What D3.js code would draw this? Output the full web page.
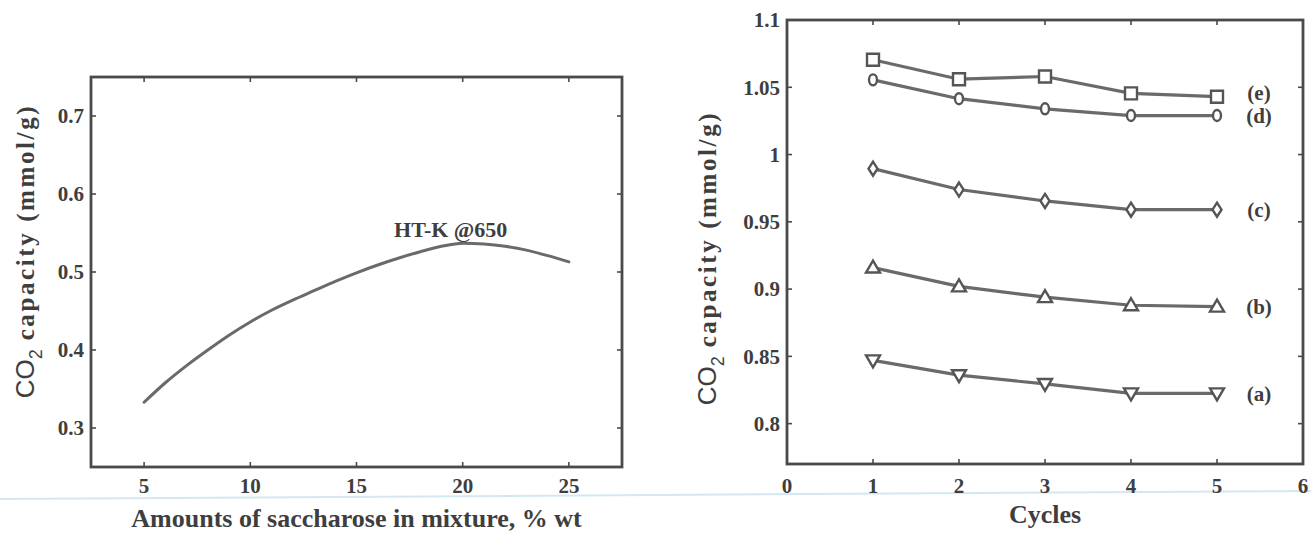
<!DOCTYPE html>
<html>
<head>
<meta charset="utf-8">
<script src="https://cdn.jsdelivr.net/npm/d3@7"></script>
<style>
  html, body { margin: 0; padding: 0; background: #fff; }
  svg { display: block; }
  .tick-label { font-family: "Liberation Serif", "Times New Roman", serif; font-weight: bold; fill: #3e3e3e; }
  .axis-title { font-family: "Liberation Serif", "Times New Roman", serif; font-weight: bold; fill: #3e3e3e; }
</style>
</head>
<body>
<svg id="chart" width="1311" height="537"></svg>
<script>
// ---- Left panel: CO2 capacity vs saccharose content ----
const saccharose = [5, 6, 7, 8, 9, 10, 11, 12, 13, 14, 15, 16, 17, 18, 19, 20, 21, 22, 23, 24, 25];
const capacityHTK = [0.333, 0.358, 0.380, 0.400, 0.419, 0.436, 0.451, 0.464, 0.476, 0.488, 0.499, 0.509, 0.518, 0.526, 0.533, 0.537, 0.536, 0.533, 0.528, 0.521, 0.513];
const leftXTicks = [5, 10, 15, 20, 25];
const leftYTicks = [0.3, 0.4, 0.5, 0.6, 0.7];
const curveLabel = "HT-K @650";

// ---- Right panel: CO2 capacity over cycles ----
const cycles = [1, 2, 3, 4, 5];
const seriesA = [0.847, 0.836, 0.8295, 0.8225, 0.8225];
const seriesB = [0.916, 0.902, 0.894, 0.888, 0.887];
const seriesC = [0.9895, 0.974, 0.9655, 0.959, 0.959];
const seriesD = [1.0555, 1.0415, 1.034, 1.029, 1.029];
const seriesE = [1.0705, 1.056, 1.058, 1.0455, 1.043];
const seriesNames = ["(a)", "(b)", "(c)", "(d)", "(e)"];
const seriesSymbols = ["triangleDown", "triangleUp", "diamond", "circle", "square"];
const rightXTicks = [0, 1, 2, 3, 4, 5, 6];
const rightYTicks = [0.8, 0.85, 0.9, 0.95, 1, 1.05, 1.1];
const rightYTickText = ["0.8", "0.85", "0.9", "0.95", "1", "1.05", "1.1"];

const svg = d3.select("#chart");
const frameColor = "#4a4a4a";
const lineColor = "#6a6a6a";

// faint ruled line running across the sheet
svg.append("line")
  .attr("x1", 0).attr("y1", 499).attr("x2", 1311).attr("y2", 491)
  .attr("stroke", "#d3e8f2").attr("stroke-width", 2);

// Draws a boxed frame with inward ticks on all four sides
function drawFrame(g, x, y, xTicks, yTicks, xFmt, yFmt, xLabelY) {
  const [x0, x1] = x.range();
  const [y0, y1] = y.range(); // y0 bottom, y1 top
  const tl = 5;
  const ticks = g.append("g").attr("stroke", frameColor).attr("stroke-width", 1.6);
  xTicks.forEach(t => {
    ticks.append("line").attr("x1", x(t)).attr("x2", x(t)).attr("y1", y0).attr("y2", y0 - tl);
    ticks.append("line").attr("x1", x(t)).attr("x2", x(t)).attr("y1", y1).attr("y2", y1 + tl);
  });
  yTicks.forEach(t => {
    ticks.append("line").attr("x1", x0).attr("x2", x0 + tl).attr("y1", y(t)).attr("y2", y(t));
    ticks.append("line").attr("x1", x1).attr("x2", x1 - tl).attr("y1", y(t)).attr("y2", y(t));
  });
  g.append("rect")
    .attr("x", x0).attr("y", y1).attr("width", x1 - x0).attr("height", y0 - y1)
    .attr("fill", "none").attr("stroke", frameColor).attr("stroke-width", 2.8);
  g.selectAll(".xl").data(xTicks).enter().append("text")
    .attr("class", "tick-label")
    .attr("x", d => x(d)).attr("y", xLabelY)
    .attr("text-anchor", "middle").attr("font-size", 21)
    .text(xFmt);
  g.selectAll(".yl").data(yTicks).enter().append("text")
    .attr("class", "tick-label")
    .attr("x", x0 - 7).attr("y", d => y(d)).attr("dy", "0.35em")
    .attr("text-anchor", "end").attr("font-size", 21)
    .text(yFmt);
}

// Rotated "CO2 capacity (mmol/g)" axis title
function yTitle(g, cx, cy) {
  const t = g.append("text")
    .attr("class", "axis-title")
    .attr("transform", `translate(${cx},${cy}) rotate(-90)`)
    .attr("text-anchor", "middle");
  t.append("tspan").attr("font-family", "Liberation Sans, Arial, sans-serif").attr("font-weight", "normal").attr("font-size", 26).text("CO");
  t.append("tspan").attr("font-family", "Liberation Sans, Arial, sans-serif").attr("font-weight", "normal").attr("font-size", 18).attr("dy", 8).text("2");
  t.append("tspan").attr("font-size", 25).attr("dy", -8).attr("letter-spacing", 2.6).text(" capacity (mmol/g)");
}

// ---------- left panel ----------
const gL = svg.append("g");
const xL = d3.scaleLinear().domain([2.5, 27.5]).range([91, 622]);
const yL = d3.scaleLinear().domain([0.25, 0.75]).range([467, 77]);
drawFrame(gL, xL, yL, leftXTicks, leftYTicks, d => d, d => d3.format(".1f")(d), 493);

const ptsL = saccharose.map((s, i) => [s, capacityHTK[i]]);
gL.append("path")
  .datum(ptsL)
  .attr("fill", "none").attr("stroke", lineColor).attr("stroke-width", 3)
  .attr("stroke-linecap", "round")
  .attr("d", d3.line().x(d => xL(d[0])).y(d => yL(d[1])).curve(d3.curveMonotoneX));

const peakIdx = d3.maxIndex(capacityHTK);
gL.append("text")
  .attr("class", "axis-title")
  .attr("x", xL(saccharose[peakIdx]) - 12).attr("y", yL(capacityHTK[peakIdx]) - 6)
  .attr("text-anchor", "middle").attr("font-size", 22)
  .text(curveLabel);

gL.append("text")
  .attr("class", "axis-title")
  .attr("x", (91 + 622) / 2).attr("y", 527)
  .attr("text-anchor", "middle").attr("font-size", 26)
  .text("Amounts of saccharose in mixture, % wt");

yTitle(gL, 34, 251);

// ---------- right panel ----------
const gR = svg.append("g");
const xR = d3.scaleLinear().domain([0, 6]).range([787, 1303]);
const yR = d3.scaleLinear().domain([0.77, 1.1]).range([464, 20]);
drawFrame(gR, xR, yR, rightXTicks, rightYTicks, d => d, (d, i) => rightYTickText[i], 493);

const allSeries = [seriesA, seriesB, seriesC, seriesD, seriesE];
const symbolPath = {
  square: "M-6,-6H6V6H-6Z",
  circle: "M0,-5.5A4,5.5 0 1,1 0,5.5A4,5.5 0 1,1 0,-5.5Z",
  diamond: "M0,-7L4.5,0L0,7L-4.5,0Z",
  triangleUp: "M0,-7L7,5L-7,5Z",
  triangleDown: "M0,7L7,-5L-7,-5Z"
};
const lineR = d3.line().x(d => xR(d[0])).y(d => yR(d[1]));
allSeries.forEach((vals, si) => {
  const pts = cycles.map((c, i) => [c, vals[i]]);
  gR.append("path").datum(pts)
    .attr("fill", "none").attr("stroke", lineColor).attr("stroke-width", 3.2)
    .attr("d", lineR);
  gR.selectAll(null).data(pts).enter().append("path")
    .attr("transform", d => `translate(${xR(d[0])},${yR(d[1])})`)
    .attr("d", symbolPath[seriesSymbols[si]])
    .attr("fill", "#fff").attr("stroke", "#555").attr("stroke-width", 2.4);
  const last = pts[pts.length - 1];
  gR.append("text")
    .attr("class", "axis-title")
    .attr("x", xR(last[0]) + 42).attr("y", yR(last[1]) + (si === 4 ? -4 : 0))
    .attr("dy", "0.35em").attr("text-anchor", "middle").attr("font-size", 21)
    .text(seriesNames[si]);
});

gR.append("text")
  .attr("class", "axis-title")
  .attr("x", xR(3)).attr("y", 523)
  .attr("text-anchor", "middle").attr("font-size", 26)
  .text("Cycles");

yTitle(gR, 716, 258);
</script>
</body>
</html>
